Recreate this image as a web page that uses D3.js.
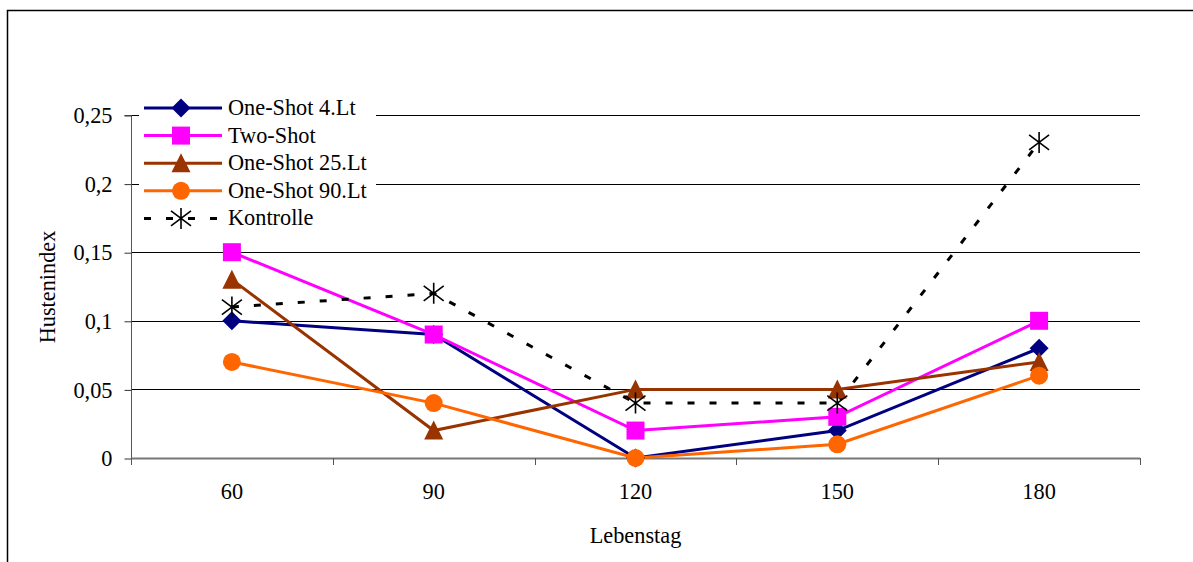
<!DOCTYPE html>
<html><head><meta charset="utf-8">
<script src="https://cdn.jsdelivr.net/npm/d3@7"></script>
<style>body{margin:0;background:#fff}svg{display:block}text{font-family:"Liberation Serif","Times New Roman",serif}</style>
</head><body><svg id="c" width="1193" height="562"></svg>
<script>
const categories = ["60","90","120","150","180"];
const yTicks = [0,0.05,0.1,0.15,0.2,0.25];
const yTickLabels = ["0","0,05","0,1","0,15","0,2","0,25"];
const seriesNames = ["One-Shot 4.Lt","Two-Shot","One-Shot 25.Lt","One-Shot 90.Lt","Kontrolle"];
const oneShot4 = [0.10,0.09,0.00,0.02,0.08];
const twoShot = [0.15,0.09,0.02,0.03,0.10];
const oneShot25 = [0.13,0.02,0.05,0.05,0.07];
const oneShot90 = [0.07,0.04,0.00,0.01,0.06];
const kontrolle = [0.11,0.12,0.04,0.04,0.23];
const colors = ["#000080","#FF00FF","#993300","#FF6600","#000000"];
const markers = ["diamond","square","triangle","circle","star"];

const series = [oneShot4,twoShot,oneShot25,oneShot90,kontrolle].map((v,i)=>({name:seriesNames[i],values:v,color:colors[i],marker:markers[i],dashed:i===4}));

const FS = 22.3;
const DASH = "7,15";
const svg = d3.select("#c");
const L=131,R=1140,T=115,B=458;
svg.append("rect").attr("x",7.5).attr("y",10.5).attr("width",1200).attr("height",600).attr("fill","none").attr("stroke","#000").attr("stroke-width",1.5);

const x = d3.scaleBand().domain(categories).range([L,R]).paddingInner(0).paddingOuter(0);
const y = d3.scaleLinear().domain([0,0.25]).range([B,T]);

svg.append("g").selectAll("line").data(yTicks.filter(d=>d>0)).join("line")
 .attr("x1",L).attr("x2",R).attr("y1",d=>Math.round(y(d))+0.5).attr("y2",d=>Math.round(y(d))+0.5)
 .attr("stroke","#000").attr("stroke-width",1);

const yAxis = d3.axisLeft(y).tickValues(yTicks).tickFormat((d,i)=>yTickLabels[i]).tickSize(7).tickPadding(12);
const gy = svg.append("g").attr("transform",`translate(${L+0.5},0.5)`).call(yAxis);
gy.select(".domain").attr("stroke","#555").attr("d",`M-7,${T}H0V${B}`);
gy.selectAll(".tick line").attr("stroke","#333");
gy.selectAll("text").attr("font-size",FS).attr("fill","#000").attr("font-family","Liberation Serif");

const xEdges = d3.range(categories.length+1).map(i=>L+i*x.bandwidth());
svg.append("line").attr("x1",L).attr("x2",R).attr("y1",B+0.5).attr("y2",B+0.5).attr("stroke","#777").attr("stroke-width",2);
svg.append("g").selectAll("line").data(xEdges).join("line")
 .attr("x1",d=>Math.round(d)+0.5).attr("x2",d=>Math.round(d)+0.5).attr("y1",B).attr("y2",B+7).attr("stroke","#555");
svg.append("g").selectAll("text").data(categories).join("text")
 .attr("x",d=>x(d)+x.bandwidth()/2).attr("y",B+41).attr("text-anchor","middle").attr("font-size",FS).text(d=>d);

svg.append("text").attr("x",(L+R)/2).attr("y",543).attr("text-anchor","middle").attr("font-size",FS).text("Lebenstag");
svg.append("text").attr("transform",`translate(55,287) rotate(-90)`).attr("text-anchor","middle").attr("font-size",FS).text("Hustenindex");

function drawMarker(g,type,color){
  if(type==="diamond") g.append("path").attr("d","M0,-9.5L9.5,0L0,9.5L-9.5,0Z").attr("fill",color);
  else if(type==="square") g.append("rect").attr("x",-9).attr("y",-9).attr("width",18).attr("height",18).attr("fill",color);
  else if(type==="triangle") g.append("path").attr("d","M0,-10L9.5,9L-9.5,9Z").attr("fill",color);
  else if(type==="circle") g.append("circle").attr("r",9).attr("fill",color);
  else if(type==="star") g.append("path").attr("d","M0,-10.5V10.5M-10,-7.5L10,7.5M-10,7.5L10,-7.5").attr("stroke",color).attr("stroke-width",1.6).attr("fill","none");
}

const cx = d=>x(d)+x.bandwidth()/2;
const line = d3.line().x((d,i)=>cx(categories[i])).y(d=>y(d));
series.forEach(s=>{
  svg.append("path").attr("d",line(s.values)).attr("fill","none").attr("stroke",s.color).attr("stroke-width",3)
   .attr("stroke-dasharray",s.dashed?DASH:null);
});
series.forEach(s=>{
  s.values.forEach((v,i)=>{
    const g=svg.append("g").attr("transform",`translate(${cx(categories[i])},${y(v)})`);
    drawMarker(g,s.marker,s.color);
  });
});

const lg = svg.append("g");
lg.append("rect").attr("x",139).attr("y",96).attr("width",237).attr("height",136).attr("fill","#fff");
series.forEach((s,i)=>{
  const yy = 108+i*27.6;
  lg.append("line").attr("x1",144).attr("x2",222).attr("y1",yy).attr("y2",yy).attr("stroke",s.color).attr("stroke-width",3)
   .attr("stroke-dasharray",s.dashed?DASH:null);
  const g=lg.append("g").attr("transform",`translate(181,${yy})`);
  drawMarker(g,s.marker,s.color);
  lg.append("text").attr("x",228).attr("y",yy+7).attr("font-size",FS).text(s.name);
});
</script></body></html>
